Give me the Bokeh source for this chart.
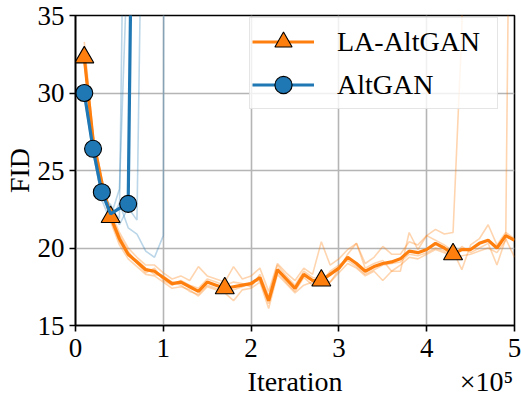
from bokeh.plotting import figure
from bokeh.models import Legend, LegendItem, LinearAxis, FixedTicker, Range1d
from bokeh.embed import file_html
from bokeh.resources import INLINE

FONT = "Liberation Serif"
ORANGE = "#ff7f0e"
BLUE = "#1f77b4"

# evaluation interval, in units of 1e5 iterations
STEP = 0.1

x_ticks = [0, 1, 2, 3, 4, 5]
y_ticks = [15, 20, 25, 30, 35]
x_title = "Iteration"
x_scale_text = "\u00d710\u2075"
y_title = "FID"

# LA-AltGAN: mean curve and individual runs (FID every 1e4 iterations)
la_mean = [32.3, 27.0, 24.2, 22.0, 20.6, 19.6, 19.1, 18.6, 18.5, 18.1,
           17.7, 17.8, 17.5, 17.2, 17.8, 17.6, 17.4, 17.5, 17.6, 17.7,
           18.1, 16.6, 18.6, 18.0, 17.4, 18.3, 17.9, 17.9, 18.3, 18.7,
           19.4, 19.0, 18.5, 18.8, 19.0, 19.1, 19.3, 19.8, 19.7, 19.9,
           20.3, 20.0, 19.6, 19.9, 19.9, 20.3, 20.5, 20.0, 20.8, 20.5]
la_run_a = [33.3, 27.3, 24.5, 22.3, 21.0, 20.0, 19.4, 18.9, 18.9, 18.4,
            18.0, 18.2, 17.9, 18.8, 18.2, 18.0, 17.8, 18.8, 18.0, 18.2,
            18.7, 17.2, 19.0, 18.4, 17.9, 18.7, 18.3, 20.4, 18.9, 19.3,
            19.9, 20.3, 19.0, 19.4, 20.1, 19.6, 19.6, 20.4, 20.2, 20.8,
            21.2, 20.9, 21.0, 34.0, 80.0]
la_run_b = [32.0, 26.8, 24.0, 21.7, 20.2, 19.3, 18.8, 18.3, 18.2, 17.8,
            17.4, 17.5, 17.3, 16.9, 17.5, 17.3, 17.1, 16.6, 17.3, 17.4,
            17.8, 16.1, 18.3, 17.7, 17.1, 17.6, 17.8, 17.6, 17.8, 18.4,
            19.0, 18.7, 18.2, 18.5, 17.9, 18.5, 18.9, 19.4, 19.3, 19.6,
            19.9, 19.7, 19.3, 19.5, 19.6, 19.8, 20.0, 19.7, 20.5, 76.0]
la_run_c = [32.5, 27.2, 24.4, 22.1, 20.8, 19.8, 19.0, 18.4, 18.7, 17.9,
            17.6, 17.9, 17.6, 17.4, 18.0, 17.8, 17.6, 17.8, 17.7, 17.5,
            18.3, 16.9, 18.9, 18.2, 17.6, 18.5, 18.1, 18.0, 17.8, 18.6,
            19.6, 20.3, 18.7, 19.0, 19.2, 18.5, 18.5, 21.0, 19.9, 20.8,
            20.5, 20.2, 19.8, 18.6, 20.2, 20.6, 21.5, 20.2, 21.0, 20.6]
la_run_d = [32.2, 26.9, 24.1, 21.9, 20.4, 19.5, 19.2, 18.7, 18.3, 18.2,
            17.8, 17.6, 17.2, 17.0, 17.6, 17.4, 17.2, 17.3, 17.5, 17.8,
            17.9, 16.4, 18.5, 17.8, 17.2, 18.1, 17.6, 17.8, 18.5, 18.9,
            19.2, 18.8, 18.3, 18.6, 18.9, 19.0, 19.1, 19.6, 19.5, 19.7,
            20.0, 19.8, 19.4, 20.1, 19.7, 20.0, 20.3, 18.9, 20.6, 19.4]
la_marker_idx = [0, 3, 16, 27, 42]

# AltGAN: mean curve (diverges) and individual runs
alt_mean = [30.0, 26.4, 23.6, 22.2, 22.55, 22.85, 70.0]
alt_run_1 = [30.2, 26.8, 24.0, 22.5, 21.9, 65.0]
alt_run_2 = [29.8, 26.1, 23.3, 22.8, 21.5, 22.6, 21.8, 60.0]
alt_run_3 = [30.0, 26.3, 23.1, 21.7, 22.9, 21.3, 20.9, 19.8, 19.4, 20.8, 300.0]
alt_run_4 = [30.1, 26.5, 24.3, 22.0, 23.8, 40.0]
alt_marker_idx = [0, 1, 2, 5]


def xs(arr):
    return [round((i + 1) * STEP, 3) for i in range(len(arr))]


p = figure(width=521, height=399, x_range=Range1d(0, 5), y_range=Range1d(15, 35),
           output_backend="svg", toolbar_location=None,
           min_border_left=75, min_border_right=7, min_border_top=15, min_border_bottom=10)
p.background_fill_color = "white"
p.border_fill_color = "white"
p.outline_line_color = "black"
p.outline_line_width = 1.6
p.outline_line_alpha = 1.0

for ax in (p.xaxis[0], p.yaxis[0]):
    ax.axis_line_width = 1.6
    ax.axis_line_color = "black"
    ax.major_tick_line_width = 1.6
    ax.major_tick_line_color = "black"
    ax.major_tick_out = 6
    ax.major_tick_in = 0
    ax.minor_tick_line_color = None
    ax.major_label_text_font = FONT
    ax.major_label_text_font_size = "27px"
    ax.major_label_text_color = "black"
p.xaxis[0].ticker = FixedTicker(ticks=x_ticks)
p.yaxis[0].ticker = FixedTicker(ticks=y_ticks)
p.xaxis[0].major_label_standoff = 7
p.yaxis[0].major_label_standoff = 5
p.yaxis[0].axis_label = y_title
p.yaxis[0].axis_label_text_font = FONT
p.yaxis[0].axis_label_text_font_size = "28px"
p.yaxis[0].axis_label_text_font_style = "normal"
p.yaxis[0].axis_label_text_color = "black"
p.yaxis[0].axis_label_standoff = 0

# second, unlined axis below carrying the x title and the scale factor on one row
title_axis = LinearAxis(ticker=FixedTicker(ticks=[2.5, 4.68]),
                        major_label_overrides={2.5: x_title, 4.68: x_scale_text})
title_axis.axis_line_color = None
title_axis.major_tick_line_color = None
title_axis.minor_tick_line_color = None
title_axis.major_tick_out = 0
title_axis.major_tick_in = 0
title_axis.major_label_standoff = 6
title_axis.major_label_text_font = FONT
title_axis.major_label_text_font_size = "28px"
title_axis.major_label_text_color = "black"
p.add_layout(title_axis, "below")

p.xgrid.ticker = FixedTicker(ticks=x_ticks)
p.ygrid.ticker = FixedTicker(ticks=y_ticks)
for g in (p.xgrid[0], p.ygrid[0]):
    g.grid_line_color = "#b5b5b5"
    g.grid_line_width = 1.6

# faint individual runs
for run in (la_run_a, la_run_b, la_run_c, la_run_d):
    p.line(xs(run), run, line_color=ORANGE, line_alpha=0.33, line_width=1.6)
for run in (alt_run_1, alt_run_2, alt_run_3, alt_run_4):
    p.line(xs(run), run, line_color=BLUE, line_alpha=0.3, line_width=1.6)

# mean curves with markers
la_x = xs(la_mean)
la_line = p.line(la_x, la_mean, line_color=ORANGE, line_width=3.2)
la_pts = p.scatter([la_x[i] for i in la_marker_idx], [la_mean[i] for i in la_marker_idx],
                   marker="triangle", size=19, fill_color=ORANGE, line_color="black", line_width=1.1)
alt_x = xs(alt_mean)
alt_line = p.line(alt_x, alt_mean, line_color=BLUE, line_width=3.2)
alt_pts = p.scatter([alt_x[i] for i in alt_marker_idx], [alt_mean[i] for i in alt_marker_idx],
                    marker="circle", size=17, fill_color=BLUE, line_color="black", line_width=1.1)

legend = Legend(items=[LegendItem(label="LA-AltGAN", renderers=[la_line, la_pts]),
                       LegendItem(label="AltGAN", renderers=[alt_line, alt_pts])],
                location=(174, 216))
legend.label_text_font = FONT
legend.label_text_font_size = "28px"
legend.label_text_color = "black"
legend.glyph_width = 62
legend.glyph_height = 43
legend.label_height = 43
legend.label_width = 158
legend.label_standoff = 23
legend.padding = 2
legend.spacing = 0
legend.border_line_color = "#cccccc"
legend.border_line_width = 1.5
legend.background_fill_alpha = 0.8
p.add_layout(legend, "center")

open("out.html", "w").write(file_html(p, INLINE))
